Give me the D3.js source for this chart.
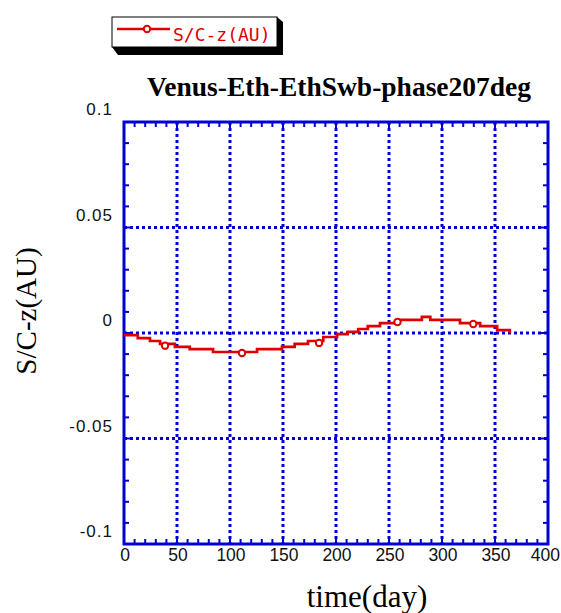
<!DOCTYPE html>
<html>
<head>
<meta charset="utf-8">
<script src="https://cdn.jsdelivr.net/npm/d3@7"></script>
<style>
  html, body { margin: 0; padding: 0; background: #fff; }
  svg { display: block; }
</style>
</head>
<body>
<svg id="chart" width="561" height="613"></svg>
<script>
// Spacecraft z-coordinate over one year (stepped trajectory output)
const stepDays   = [0, 13, 24.5, 34, 48, 62, 84, 125.5, 149, 161, 173.6, 188, 201, 211, 221, 230, 241.5, 260, 281, 289, 317, 336, 352, 364];
const stepValues = [-0.0010, -0.0024, -0.0038, -0.0052, -0.0066, -0.0076, -0.0090, -0.0076, -0.0066, -0.0052, -0.0038, -0.0019, -0.0005, 0.0005, 0.0019, 0.0033, 0.0047, 0.0062, 0.0076, 0.0062, 0.0047, 0.0033, 0.0014, 0.0000];
const markerDays   = [38.7, 111.3, 184, 258, 329.5];
const markerValues = [-0.0060, -0.0095, -0.0047, 0.0052, 0.0043];

const xTicks = [0, 50, 100, 150, 200, 250, 300, 350, 400];
const yTicks = [0.1, 0.05, 0, -0.05, -0.1];
const yTickLabels = ["0.1", "0.05", "0", "-0.05", "-0.1"];

const titleText = "Venus-Eth-EthSwb-phase207deg";
const xLabel = "time(day)";
const yLabel = "S/C-z(AU)";
const seriesName = "S/C-z(AU)";

const blue = "#0000d2";
const red = "#dd0000";

const W = 561;
const svg = d3.select("#chart");
const L = 124, R = 548, T = 122, B = 544;

const x = d3.scaleLinear().domain([0, 400]).range([L, R]);
const y = d3.scaleLinear().domain([-0.1, 0.1]).range([B, T]);

// dotted grid
const grid = svg.append("g");
grid.selectAll("line.gx").data(xTicks.filter(d => d > 0 && d < 400)).join("line")
  .attr("x1", d => x(d)).attr("x2", d => x(d)).attr("y1", T).attr("y2", B)
  .attr("stroke", blue).attr("stroke-width", 3).attr("stroke-dasharray", "3,3");
grid.selectAll("line.gy").data(yTicks.filter(d => Math.abs(d) < 0.09)).join("line")
  .attr("x1", L).attr("x2", R).attr("y1", d => y(d)).attr("y2", d => y(d))
  .attr("stroke", blue).attr("stroke-width", 3).attr("stroke-dasharray", "3,3");

// inward ticks on all four sides
const minorX = d3.range(0, 401, 10);
const minorY = d3.range(-10, 11).map(i => i / 100);
const tk = svg.append("g").attr("stroke", blue).attr("stroke-width", 2);
minorX.forEach(v => {
  const len = v % 50 === 0 ? 8 : 5;
  tk.append("line").attr("x1", x(v)).attr("x2", x(v)).attr("y1", B).attr("y2", B - len);
  tk.append("line").attr("x1", x(v)).attr("x2", x(v)).attr("y1", T).attr("y2", T + len);
});
minorY.forEach(v => {
  const len = Math.round(v * 100) % 5 === 0 ? 8 : 5;
  tk.append("line").attr("y1", y(v)).attr("y2", y(v)).attr("x1", L).attr("x2", L + len);
  tk.append("line").attr("y1", y(v)).attr("y2", y(v)).attr("x1", R).attr("x2", R - len);
});

// frame
svg.append("rect").attr("x", L).attr("y", T).attr("width", R - L).attr("height", B - T)
  .attr("fill", "none").attr("stroke", blue).attr("stroke-width", 3);

// tick labels (the last x label is kept inside the page edge)
const tickFont = "'Liberation Sans', Arial, sans-serif";
svg.append("g").selectAll("text").data(xTicks).join("text")
  .attr("x", d => x(d) + 1).attr("y", 561)
  .attr("text-anchor", "middle").attr("font-family", tickFont).attr("font-size", 17.5)
  .attr("fill", "#111").text(d => d)
  .each(function() {
    const w = this.getComputedTextLength();
    const cx = +this.getAttribute("x");
    if (cx + w / 2 > W - 1) this.setAttribute("x", W - 1 - w / 2);
  });
svg.append("g").selectAll("text").data(yTicks).join("text")
  .attr("x", 113).attr("y", d => y(d) - 7)
  .attr("text-anchor", "end").attr("font-family", tickFont).attr("font-size", 17)
  .attr("letter-spacing", 1)
  .attr("fill", "#111").text((d, i) => yTickLabels[i]);

// series
const pts = stepDays.map((d, i) => [d, stepValues[i]]);
const line = d3.line().x(d => x(d[0])).y(d => y(d[1])).curve(d3.curveStepAfter);
svg.append("path").attr("d", line(pts)).attr("fill", "none")
  .attr("stroke", red).attr("stroke-width", 2.7);
svg.append("g").selectAll("circle").data(markerDays).join("circle")
  .attr("cx", d => x(d)).attr("cy", (d, i) => y(markerValues[i])).attr("r", 3.2)
  .attr("fill", "#fff").attr("stroke", red).attr("stroke-width", 2);

// title and axis labels
const serif = "'Liberation Serif', 'Times New Roman', serif";
svg.append("text").attr("x", 339).attr("y", 96).attr("text-anchor", "middle")
  .attr("font-family", serif).attr("font-weight", "bold").attr("font-size", 27.5)
  .text(titleText);
svg.append("text").attr("x", 367).attr("y", 607).attr("text-anchor", "middle")
  .attr("font-family", serif).attr("font-size", 31).text(xLabel);
svg.append("text").attr("transform", "translate(36,311) rotate(-90)").attr("text-anchor", "middle")
  .attr("font-family", serif).attr("font-size", 29).text(yLabel);

// legend with drop shadow
const lg = svg.append("g");
lg.append("polygon")
  .attr("points", "112,47 118,55 283,55 283,22 277,17 277,47")
  .attr("fill", "#000");
lg.append("rect").attr("x", 112).attr("y", 17).attr("width", 165).attr("height", 30)
  .attr("fill", "#fff").attr("stroke", "#000").attr("stroke-width", 1);
lg.append("line").attr("x1", 117).attr("x2", 170).attr("y1", 29).attr("y2", 29)
  .attr("stroke", red).attr("stroke-width", 2.5);
lg.append("circle").attr("cx", 147).attr("cy", 29).attr("r", 3.2)
  .attr("fill", "#fff").attr("stroke", red).attr("stroke-width", 2);
lg.append("text").attr("x", 173).attr("y", 41)
  .attr("font-family", "'DejaVu Sans Mono', monospace").attr("font-size", 18)
  .attr("fill", red).text(seriesName);
</script>
</body>
</html>
